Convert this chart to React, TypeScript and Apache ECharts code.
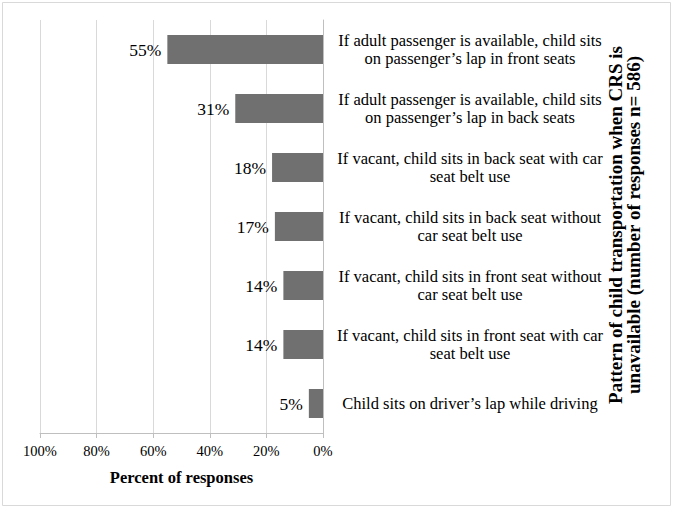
import React, { useEffect, useRef } from "react";
import * as echarts from "echarts";

const categories = [
  "If adult passenger is available, child sits\non passenger’s lap in front seats",
  "If adult passenger is available, child sits\non passenger’s lap in back seats",
  "If vacant, child sits in back seat with car\nseat belt use",
  "If vacant, child sits in back seat without\ncar seat belt use",
  "If vacant, child sits in front seat without\ncar seat belt use",
  "If vacant, child sits in front seat with car\nseat belt use",
  "Child sits on driver’s lap while driving",
];
const values = [55, 31, 18, 17, 14, 14, 5];
const xAxisTitle = "Percent of responses";
const yAxisTitle = "Pattern of child transportation when CRS is\nunavailable (number of responses n= 586)";

const FONT = "'Liberation Serif', 'Times New Roman', serif";

export default function App() {
  const ref = useRef<HTMLDivElement>(null);
  useEffect(() => {
    if (!ref.current) return;
    const chart = echarts.init(ref.current, undefined, { renderer: "svg" });
    chart.setOption({
      animation: false,
      backgroundColor: "#ffffff",
      textStyle: { fontFamily: FONT },
      grid: { left: 40, right: 351, top: 20, bottom: 77, containLabel: false },
      xAxis: {
        type: "value",
        inverse: true,
        min: 0,
        max: 100,
        interval: 20,
        axisLine: { show: true, lineStyle: { color: "#bfbfbf", width: 1 } },
        axisTick: { show: true, length: 5, lineStyle: { color: "#bfbfbf" } },
        axisLabel: {
          formatter: "{value}%",
          color: "#000",
          fontFamily: FONT,
          fontSize: 14.5,
          margin: 10,
        },
        splitLine: { show: true, lineStyle: { color: "#d9d9d9", width: 1 } },
        name: xAxisTitle,
        nameLocation: "middle",
        nameGap: 36,
        nameTextStyle: { color: "#000", fontFamily: FONT, fontSize: 16.5, fontWeight: "bold" },
      },
      yAxis: {
        type: "category",
        data: categories,
        inverse: true,
        position: "right",
        axisLine: { show: true, lineStyle: { color: "#bfbfbf", width: 1 } },
        axisTick: { show: false },
        axisLabel: {
          color: "#000",
          fontFamily: FONT,
          fontSize: 16.5,
          lineHeight: 18,
          align: "center",
          margin: 147,
        },
        splitLine: { show: false },
      },
      series: [
        {
          type: "bar",
          data: values,
          barWidth: 29,
          itemStyle: { color: "#707070" },
          label: {
            show: true,
            position: "left",
            distance: 6,
            formatter: "{c}%",
            color: "#000",
            fontFamily: FONT,
            fontSize: 17.5,
          },
        },
      ],
      graphic: [
        {
          type: "rect",
          shape: { x: 2.5, y: 2.5, width: 668, height: 503 },
          style: { fill: "none", stroke: "#d9d9d9", lineWidth: 1 },
          silent: true,
        },
        {
          type: "text",
          x: 624,
          y: 225,
          rotation: Math.PI / 2,
          style: {
            text: yAxisTitle,
            align: "center",
            verticalAlign: "middle",
            fill: "#000",
            font: `bold 19px ${FONT}`,
            lineHeight: 18,
          },
        },
      ],
    });
    return () => chart.dispose();
  }, []);
  return (
    <div
      ref={ref}
      style={{ position: "fixed", left: 0, top: 0, width: 674, height: 510 }}
    />
  );
}
